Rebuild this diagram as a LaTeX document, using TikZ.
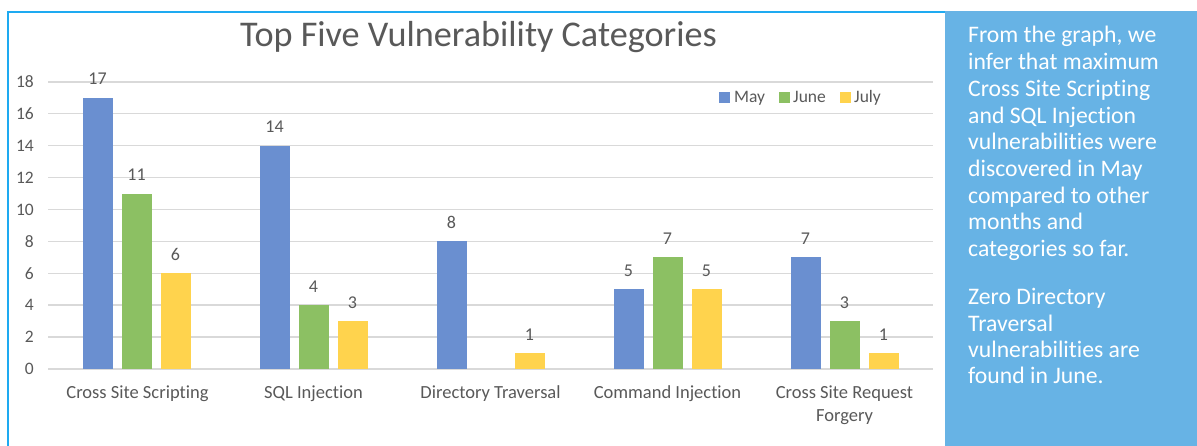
\documentclass[tikz,border=0pt]{standalone}
\usepackage{fontspec}
\setmainfont[Ligatures={NoCommon}]{Carlito}
\definecolor{mayc}{HTML}{6A8FD0}
\definecolor{junec}{HTML}{8CC063}
\definecolor{julyc}{HTML}{FFD34D}
\definecolor{panelc}{HTML}{67B3E5}
\definecolor{framec}{HTML}{1EAAF1}
\definecolor{gridc}{HTML}{D9D9D9}
\definecolor{txtc}{HTML}{595959}
\begin{document}
\begin{tikzpicture}[x=1pt,y=-1pt,
  gridline/.style={draw=gridc,line width=1.4pt},
  axislab/.style={font=\fontsize{17.5}{20}\selectfont,text=txtc,inner sep=0pt,anchor=east},
  datalab/.style={font=\fontsize{18}{20}\selectfont,text=txtc,inner sep=0pt,anchor=base},
  catlab/.style={font=\fontsize{18.5}{20}\selectfont,text=txtc,inner sep=0pt,anchor=base},
  leglab/.style={font=\fontsize{17.5}{20}\selectfont,text=txtc,inner sep=0pt,anchor=base west},
  paneltext/.style={font=\fontsize{23.7}{26.7}\selectfont,text=white,inner sep=0pt,anchor=base west},
  frameline/.style={draw=framec,line width=2pt}]
\useasboundingbox (0,0) rectangle (1197,446);
\fill[white] (0,0) rectangle (1197,446);
% chart frame and side panel
\draw[frameline] (8,446) -- (8,12) -- (950,12);
\fill[panelc] (945,11) rectangle (1197,446);
% title
\node[font=\fontsize{36.2}{40}\selectfont,text=txtc,inner sep=0pt,anchor=base] (title) at (478.5,47) {Top Five Vulnerability Categories};
% grid and y labels
\foreach \v in {0,2,...,18}{
  \draw[gridline] (48,{369-15.95*\v}) -- (933,{369-15.95*\v});
  \node[axislab] (y\v) at (34,{369-15.95*\v}) {\v};
}
% bars
\foreach \i/\s/\v/\c in {0/0/17/mayc,0/1/11/junec,0/2/6/julyc,
                         1/0/14/mayc,1/1/4/junec,1/2/3/julyc,
                         2/0/8/mayc,2/2/1/julyc,
                         3/0/5/mayc,3/1/7/junec,3/2/5/julyc,
                         4/0/7/mayc,4/1/3/junec,4/2/1/julyc}{
  \pgfmathsetmacro\xc{136.5+177*\i+39*(\s-1)}
  \pgfmathsetmacro\yt{369-15.95*\v}
  \fill[\c] ({\xc-15},369) rectangle ({\xc+15},\yt);
  \node[datalab] (d\i\s) at (\xc,{\yt-13}) {\v};
}
% category labels
\node[catlab] (c0) at (137.5,398) {Cross Site Scripting};
\node[catlab] (c1) at (313.5,398) {SQL Injection};
\node[catlab] (c2) at (490.5,398) {Directory Traversal};
\node[catlab] (c3) at (667.5,398) {Command Injection};
\node[catlab] (c4a) at (844.5,398) {Cross Site Request};
\node[catlab] (c4b) at (844.5,421) {Forgery};
% legend
\fill[mayc] (719,92) rectangle (730,103);
\node[leglab] (lmay) at (734,103) {May};
\fill[junec] (779,92) rectangle (790,103);
\node[leglab] (ljune) at (793,103) {June};
\fill[julyc] (840,92) rectangle (851,103);
\node[leglab] (ljuly) at (854,103) {July};
% panel text
\foreach \t [count=\k] in {{From the graph, we},{infer that maximum},{Cross Site Scripting},{and SQL Injection},{vulnerabilities were},{discovered in May},{compared to other},{months and},{categories so far.}}{
  \node[paneltext] (p\k) at (968,{43+26.7*(\k-1)}) {\t};
}
\foreach \t [count=\k] in {{Zero Directory},{Traversal},{vulnerabilities are},{found in June.}}{
  \node[paneltext] (q\k) at (968,{305+26*(\k-1)}) {\t};
}
\end{tikzpicture}
\end{document}
